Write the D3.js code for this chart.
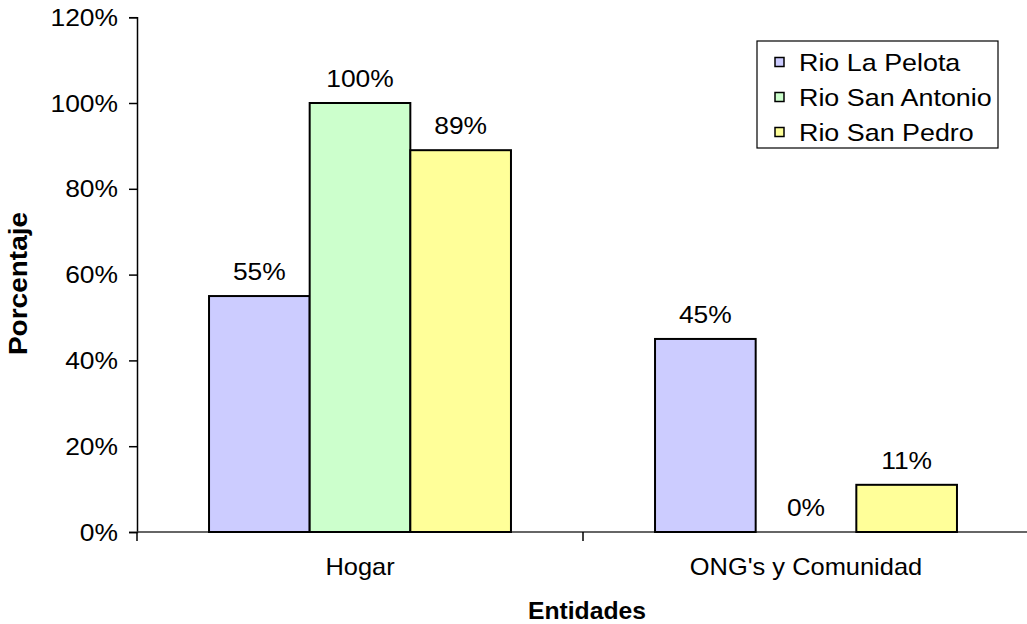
<!DOCTYPE html>
<head>
    <meta charset="utf-8">
    <style>
        body { margin: 0; background: #fff; }
        text { font-family: "Liberation Sans", Arial, sans-serif; fill: #000; }
    </style>
    <script src="https://d3js.org/d3.v7.min.js"></script>
</head>
<body>
    <script>
        // data
        const categories = ["Hogar", "ONG's y Comunidad"];
        const seriesNames = ["Rio La Pelota", "Rio San Antonio", "Rio San Pedro"];
        const seriesColors = ["#ccccff", "#ccffcc", "#ffff99"];
        const values = [
            [0.55, 1.00, 0.89],   // Hogar
            [0.45, 0.00, 0.11]    // ONG's y Comunidad
        ];
        const yTicks = [0, 0.2, 0.4, 0.6, 0.8, 1.0, 1.2];

        const width = 1027, height = 624;
        const plotLeft = 137, plotRight = 1029, plotTop = 17.2, plotBottom = 532;

        const svg = d3.select('body').append('svg')
            .attr('width', width)
            .attr('height', height);

        const x0 = d3.scaleBand().domain(categories).range([plotLeft, plotRight]);
        const gap = x0.bandwidth() * 0.1615;
        const x1 = d3.scaleBand().domain(d3.range(seriesNames.length))
            .range([gap, x0.bandwidth() - gap]);
        const y = d3.scaleLinear().domain([0, 1.2]).range([plotBottom, plotTop]);

        const fmt = d3.format('.0%');

        // the source text is drawn a bit wide, so stretch it along its line
        function wideText(sel, xPos, yPos, size, sx, weight) {
            return sel.append('text')
                .attr('transform', `translate(${xPos},${yPos}) scale(${sx},1)`)
                .style('font-size', size + 'px')
                .style('font-weight', weight || 'normal');
        }

        //Y AXIS
        const yAxis = svg.append('g')
            .attr('transform', `translate(${plotLeft},0)`)
            .call(d3.axisLeft(y).tickValues(yTicks).tickSize(8).tickFormat(''));
        yAxis.select('.domain').attr('stroke', '#000').attr('stroke-width', 1.5);
        yAxis.selectAll('.tick line').attr('stroke', '#000').attr('stroke-width', 1.5);

        yTicks.forEach(t => {
            wideText(svg, 118, y(t) + 8.5, 24, 1.1)
                .attr('text-anchor', 'end')
                .text(fmt(t));
        });

        //X AXIS
        const xg = svg.append('g');
        xg.append('line')
            .attr('x1', plotLeft).attr('x2', plotRight)
            .attr('y1', y(0)).attr('y2', y(0))
            .attr('stroke', '#333').attr('stroke-width', 1.5);
        const bounds = [plotLeft].concat(categories.map(c => x0(c) + x0.bandwidth()));
        xg.selectAll('line.ctick').data(bounds).join('line')
            .attr('class', 'ctick')
            .attr('x1', d => d).attr('x2', d => d)
            .attr('y1', y(0)).attr('y2', y(0) + 9)
            .attr('stroke', '#000').attr('stroke-width', 1.5);

        categories.forEach(c => {
            wideText(svg, x0(c) + x0.bandwidth() / 2, 575, 24, 1.06)
                .attr('text-anchor', 'middle')
                .text(c);
        });

        //BARS
        categories.forEach((c, ci) => {
            const g = svg.append('g').attr('transform', `translate(${x0(c)},0)`);
            values[ci].forEach((v, si) => {
                if (v > 0) {
                    g.append('rect')
                        .attr('x', x1(si))
                        .attr('y', y(v))
                        .attr('width', x1.bandwidth())
                        .attr('height', y(0) - y(v))
                        .attr('fill', seriesColors[si])
                        .attr('stroke', '#000')
                        .attr('stroke-width', 2);
                }
                wideText(g, x1(si) + x1.bandwidth() / 2, y(v) - 16, 24, 1.1)
                    .attr('text-anchor', 'middle')
                    .text(fmt(v));
            });
        });

        //TITLES
        svg.append('text')
            .attr('transform', `translate(27,283.5) rotate(-90) scale(1.12,1)`)
            .attr('text-anchor', 'middle')
            .style('font-size', '25px')
            .style('font-weight', 'bold')
            .text('Porcentaje');

        wideText(svg, 587, 619, 24, 1.03, 'bold')
            .attr('text-anchor', 'middle')
            .text('Entidades');

        //LEGEND
        const legend = svg.append('g');
        legend.append('rect')
            .attr('x', 757).attr('y', 41)
            .attr('width', 241).attr('height', 107)
            .attr('fill', '#fff')
            .attr('stroke', '#000').attr('stroke-width', 1.2);
        seriesNames.forEach((s, i) => {
            const cy = 62 + i * 35;
            legend.append('rect')
                .attr('x', 775).attr('y', cy - 4.5)
                .attr('width', 9).attr('height', 9)
                .attr('fill', seriesColors[i])
                .attr('stroke', '#000').attr('stroke-width', 1.5);
            wideText(legend, 799, cy + 8.5, 24, 1.12).text(s);
        });
    </script>
</body>
